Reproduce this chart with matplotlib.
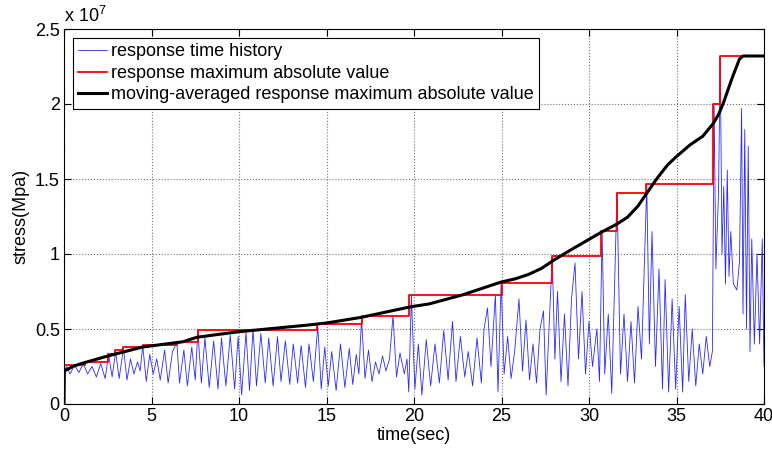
import matplotlib
matplotlib.use('Agg')
import matplotlib.pyplot as plt

plt.rcParams['font.family'] = ['Liberation Sans', 'DejaVu Sans']
plt.rcParams['font.size'] = 13

# stress values are in units of 1e7 (see axis multiplier)

# response time history: peaks and troughs
hist_t = [0.0, 0.15, 0.35, 0.6, 0.85, 1.1, 1.35, 1.6, 1.85, 2.1, 2.35, 2.55, 2.75, 2.95,
          3.15, 3.4, 3.6, 3.8, 4.0, 4.2, 4.35, 4.5, 4.7, 4.9, 5.1, 5.3, 5.5, 5.75, 5.95,
          6.2, 6.45, 6.6, 6.85, 7.05, 7.3, 7.5, 7.65, 7.85, 8.05, 8.3, 8.55, 8.8, 9.0,
          9.25, 9.5, 9.75, 9.95, 10.15, 10.4, 10.6, 10.8, 11.0, 11.25, 11.5, 11.7, 11.95,
          12.2, 12.4, 12.65, 12.9, 13.1, 13.35, 13.55, 13.8, 14.0, 14.25, 14.5, 14.7,
          14.9, 15.1, 15.3, 15.55, 15.8, 16.05, 16.3, 16.5, 16.7, 16.85, 17.0, 17.2, 17.4,
          17.6, 17.8, 18.0, 18.2, 18.4, 18.6, 18.8, 19.0, 19.2, 19.45, 19.6, 19.7, 19.85,
          20.05, 20.25, 20.45, 20.7, 20.95, 21.2, 21.45, 21.7, 21.95, 22.2, 22.4, 22.65,
          22.9, 23.1, 23.35, 23.6, 23.85, 24.0, 24.2, 24.4, 24.65, 24.8, 24.98, 25.15,
          25.35, 25.55, 25.75, 26.0, 26.2, 26.4, 26.6, 26.8, 27.0, 27.2, 27.4, 27.55,
          27.9, 28.05, 28.2, 28.4, 28.6, 28.8, 29.0, 29.2, 29.4, 29.6, 29.8, 30.0, 30.2,
          30.45, 30.6, 30.75, 30.9, 31.1, 31.3, 31.6, 31.8, 32.0, 32.2, 32.4, 32.6, 32.8,
          33.0, 33.3, 33.45, 33.6, 33.8, 34.0, 34.2, 34.35, 34.55, 34.75, 34.95, 35.15,
          35.35, 35.5, 35.7, 35.9, 36.1, 36.3, 36.5, 36.7, 36.9, 37.05, 37.15, 37.25,
          37.4, 37.5, 37.6, 37.7, 37.8, 37.9, 38.0, 38.1, 38.25, 38.45, 38.6, 38.72, 38.8,
          38.9, 39.0, 39.1, 39.2, 39.3, 39.45, 39.6, 39.75, 39.9, 40.0]
hist_v = [0.22, 0.25, 0.2, 0.26, 0.21, 0.27, 0.2, 0.25, 0.18, 0.27, 0.17, 0.33, 0.18, 0.35,
          0.17, 0.37, 0.16, 0.3, 0.2, 0.28, 0.22, 0.39, 0.15, 0.33, 0.2, 0.3, 0.16, 0.36, 0.14,
          0.35, 0.41, 0.14, 0.36, 0.12, 0.38, 0.16, 0.49, 0.14, 0.44, 0.11, 0.42, 0.1, 0.44,
          0.12, 0.46, 0.1, 0.45, 0.06, 0.48, 0.09, 0.5, 0.12, 0.47, 0.14, 0.44, 0.12,
          0.45, 0.15, 0.42, 0.13, 0.4, 0.14, 0.39, 0.11, 0.4, 0.15, 0.52, 0.1,
          0.38, 0.12, 0.35, 0.09, 0.4, 0.11, 0.37, 0.13, 0.33, 0.2, 0.57, 0.17, 0.36,
          0.15, 0.28, 0.2, 0.32, 0.22, 0.3, 0.59, 0.18, 0.34, 0.2, 0.3, 0.08, 0.72,
          0.1, 0.4, 0.06, 0.43, 0.12, 0.4, 0.14, 0.49, 0.16, 0.55, 0.15, 0.45,
          0.18, 0.35, 0.12, 0.44, 0.14, 0.5, 0.64, 0.25, 0.73, 0.08, 0.82, 0.2,
          0.45, 0.17, 0.35, 0.7, 0.22, 0.56, 0.16, 0.4, 0.14, 0.5, 0.62, 0.06,
          0.99, 0.3, 0.75, 0.15, 0.6, 0.12, 0.7, 0.94, 0.3, 0.75, 0.2, 0.55, 0.25,
          0.5, 0.15, 1.15, 0.2, 0.6, 0.07, 1.41, 0.2, 0.6, 0.15, 0.55, 0.14, 0.65,
          0.3, 1.46, 0.4, 1.15, 0.25, 0.9, 0.1, 0.83, 0.08, 0.7, 0.1, 0.65,
          0.08, 0.73, 0.15, 0.5, 0.12, 0.4, 0.2, 0.45, 0.25, 0.35, 2.0, 0.9,
          1.4, 2.32, 1.0, 1.45, 0.8, 1.56, 0.85, 1.15, 0.8, 0.76, 0.95, 1.97, 0.6,
          1.83, 0.5, 1.72, 0.35, 1.1, 0.4, 1.0, 0.4, 1.1, 0.25]

# response maximum absolute value (running max, step changes)
max_t = [0.0, 0.0, 1.2, 2.53, 2.91, 3.39, 4.49, 6.44, 7.64, 14.45, 17.0, 19.72, 25.05,
         27.87, 30.67, 31.58, 33.28, 37.08, 37.49, 40.0]
max_v = [0.0, 0.26, 0.28, 0.333, 0.36, 0.378, 0.395, 0.415, 0.493, 0.533, 0.589, 0.725,
         0.81, 0.99, 1.153, 1.409, 1.464, 2.0, 2.32, 2.32]

# moving-averaged response maximum absolute value
avg_t = [0.0, 0.02, 0.5, 1.0, 2.5, 4.5, 6.8, 7.6, 10.0, 13.83, 15.0, 17.0, 19.8, 20.86,
         22.76, 24.95, 25.8, 26.57, 27.3, 28.0, 29.0, 30.7, 31.6, 32.2, 32.8, 33.3, 33.8,
         34.06, 34.5, 35.0, 35.77, 36.5, 37.1, 37.4, 37.67, 38.2, 38.6, 38.8, 40.0]
avg_v = [0.0, 0.22, 0.25, 0.27, 0.32, 0.38, 0.415, 0.445, 0.482, 0.525, 0.54, 0.578,
         0.648, 0.667, 0.727, 0.812, 0.835, 0.865, 0.905, 0.96, 1.03, 1.145, 1.2, 1.245,
         1.32, 1.405, 1.49, 1.53, 1.595, 1.65, 1.727, 1.785, 1.87, 1.93, 2.004, 2.18,
         2.3, 2.32, 2.32]

x_ticks = [0, 5, 10, 15, 20, 25, 30, 35, 40]
y_ticks = [0, 0.5, 1, 1.5, 2, 2.5]
y_labels = ['0', '0.5', '1', '1.5', '2', '2.5']

fig = plt.figure(figsize=(7.72, 4.5), dpi=100)
ax = fig.add_axes([64 / 772, 46 / 450, 700 / 772, 375 / 450])

ax.plot(hist_t, hist_v, color='#2a2aff', linewidth=0.6, label='response time history')
ax.step(max_t, max_v, where='post', color='red', linewidth=1.3,
        label='response maximum absolute value')
ax.plot(avg_t, avg_v, color='black', linewidth=2.2,
        label='moving-averaged response maximum absolute value')

ax.set_xlim(0, 40)
ax.set_ylim(0, 2.5)
ax.set_xticks(x_ticks)
ax.set_yticks(y_ticks)
ax.set_yticklabels(y_labels)
ax.tick_params(direction='in', top=True, right=True, length=5, width=0.8, pad=3)
ax.grid(True, linestyle=':', color='0.45', linewidth=0.8)
for s in ax.spines.values():
    s.set_linewidth(0.8)

ax.set_xlabel('time(sec)', labelpad=1)
ax.set_ylabel('stress(Mpa)', labelpad=4)
ax.text(0.0, 1.008, 'x 10$^{\\mathregular{7}}$', transform=ax.transAxes,
        ha='left', va='bottom', fontsize=13)

leg = ax.legend(loc='upper left', fancybox=False, framealpha=1, edgecolor='black',
                borderaxespad=0.5, handlelength=1.6, handletextpad=0.2,
                labelspacing=0.25, borderpad=0.3)
leg.get_frame().set_linewidth(0.8)

plt.savefig('out.png', dpi=100)
